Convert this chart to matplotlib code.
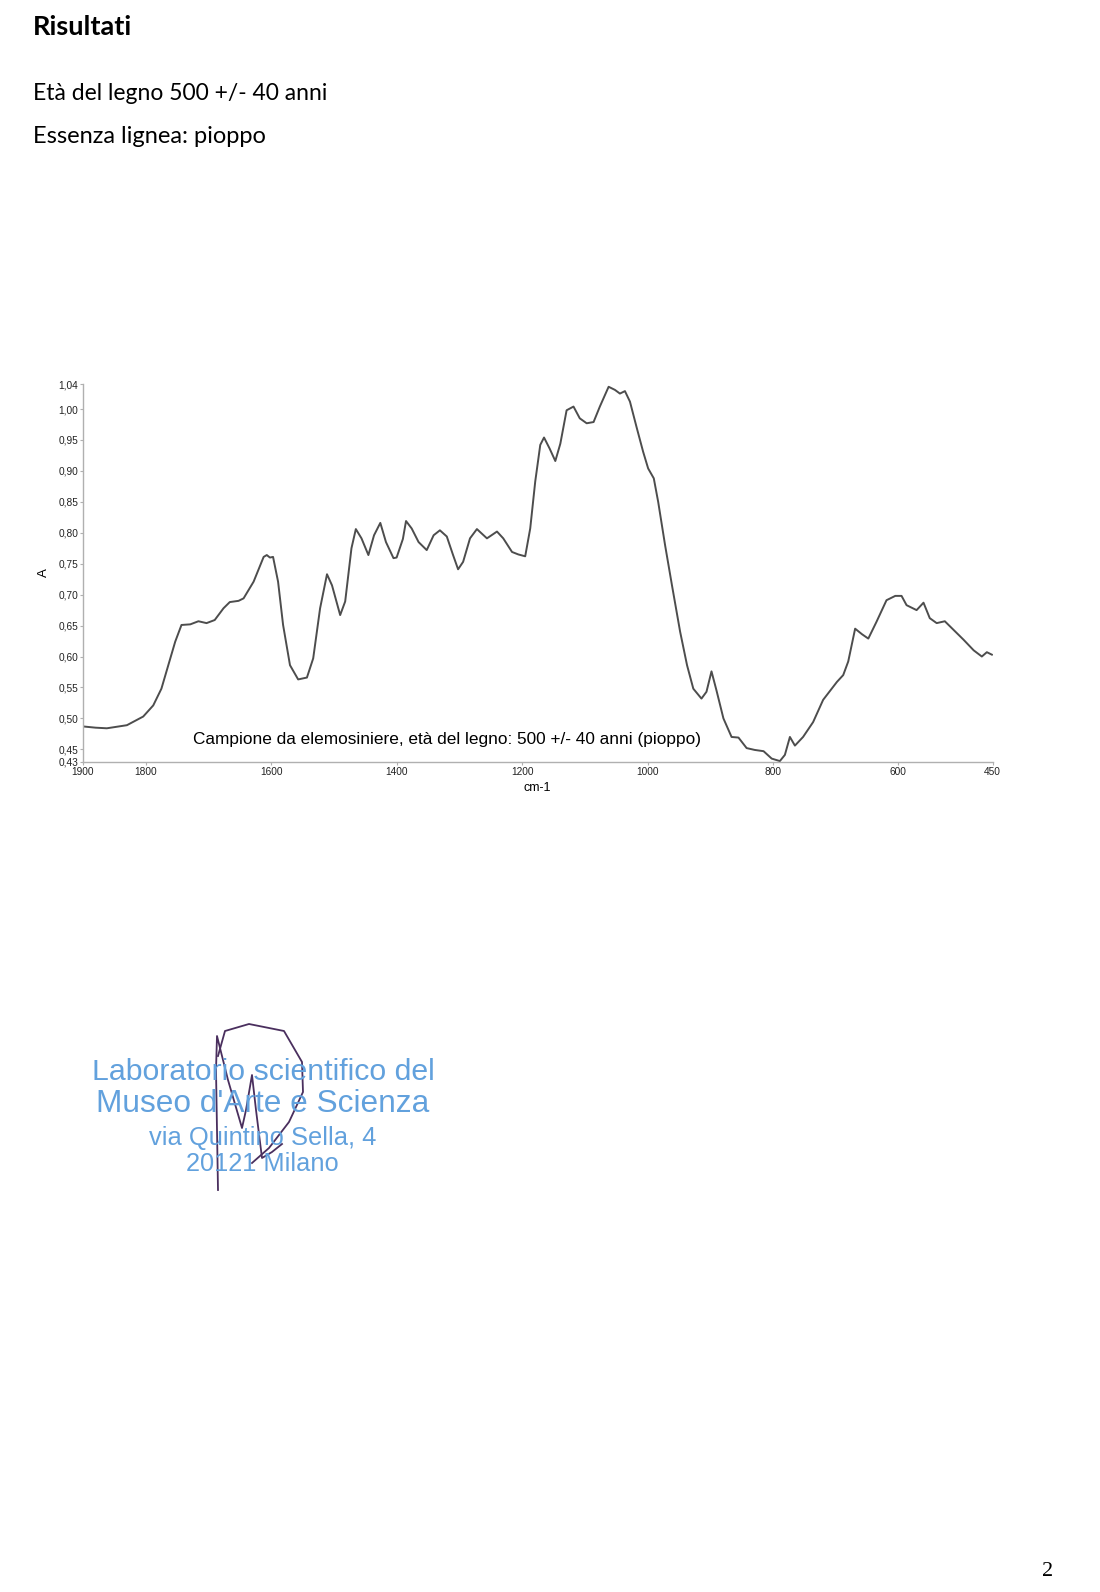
import matplotlib
matplotlib.use("Agg")
import matplotlib.pyplot as plt
from matplotlib.ticker import FixedLocator, FixedFormatter

# spettro FTIR (numero d'onda cm-1, assorbanza A)
wavenumber = [1900, 1880, 1862, 1830, 1804, 1788, 1775, 1764, 1753, 1743,
              1729, 1716, 1703, 1690, 1676, 1666, 1652, 1644, 1628, 1612,
              1607, 1602, 1597, 1589, 1581, 1570, 1557, 1543, 1533, 1522,
              1511, 1503, 1490, 1482, 1472, 1465, 1456, 1445, 1436, 1426,
              1417, 1405, 1400, 1390, 1385, 1376, 1365, 1352, 1341, 1331,
              1320, 1310, 1302, 1294, 1283, 1272, 1256, 1240, 1230, 1216,
              1206, 1195, 1187, 1179, 1171, 1165, 1156, 1147, 1139, 1129,
              1118, 1108, 1097, 1086, 1076, 1062, 1052, 1044, 1036, 1028,
              1017, 1007, 999, 990, 983, 972, 961, 948, 937, 927,
              914, 906, 898, 890, 879, 866, 855, 842, 829, 815,
              802, 789, 781, 773, 765, 752, 736, 720, 698, 688,
              680, 669, 658, 648, 635, 619, 605, 595, 587, 571,
              560, 550, 539, 526, 512, 496, 480, 467, 459, 451]
absorbance = [0.487, 0.485, 0.484, 0.489, 0.503, 0.521, 0.548, 0.586, 0.624, 0.651,
              0.652, 0.657, 0.654, 0.659, 0.678, 0.688, 0.690, 0.694, 0.721, 0.761,
              0.764, 0.760, 0.761, 0.721, 0.651, 0.586, 0.563, 0.566, 0.597, 0.678,
              0.733, 0.715, 0.667, 0.689, 0.775, 0.806, 0.791, 0.764, 0.796, 0.816,
              0.785, 0.759, 0.760, 0.790, 0.819, 0.807, 0.785, 0.772, 0.796, 0.804,
              0.794, 0.764, 0.741, 0.753, 0.791, 0.806, 0.791, 0.802, 0.791, 0.769,
              0.765, 0.762, 0.807, 0.883, 0.942, 0.954, 0.936, 0.916, 0.944, 0.998,
              1.004, 0.985, 0.977, 0.979, 1.004, 1.036, 1.031, 1.025, 1.029, 1.012,
              0.969, 0.931, 0.904, 0.888, 0.850, 0.780, 0.715, 0.640, 0.586, 0.548,
              0.532, 0.543, 0.576, 0.545, 0.500, 0.470, 0.469, 0.452, 0.449, 0.447,
              0.435, 0.431, 0.441, 0.470, 0.456, 0.470, 0.494, 0.530, 0.559, 0.570,
              0.592, 0.645, 0.636, 0.629, 0.656, 0.691, 0.698, 0.698, 0.683, 0.675,
              0.687, 0.662, 0.654, 0.657, 0.643, 0.627, 0.610, 0.600, 0.607, 0.603]

x_ticks = [1900, 1800, 1600, 1400, 1200, 1000, 800, 600, 450]
y_ticks = [0.43, 0.45, 0.50, 0.55, 0.60, 0.65, 0.70, 0.75, 0.80, 0.85, 0.90, 0.95, 1.00, 1.04]

titolo = "Risultati"
righe = ["Età del legno 500 +/- 40 anni", "Essenza lignea: pioppo"]
didascalia = "Campione da elemosiniere, età del legno: 500 +/- 40 anni (pioppo)"
timbro = ["Laboratorio scientifico del", "Museo d'Arte e Scienza",
          "via Quintino Sella, 4", "20121 Milano"]

# firma (pixel della pagina)
firma_x = [218, 225, 249, 284, 302, 303, 289, 269, 252]
firma_y = [1056, 1031, 1024, 1031, 1062, 1092, 1122, 1148, 1163]
firma2_x = [218, 217, 216, 217, 228, 242, 246, 252, 256, 262, 272, 282]
firma2_y = [1190, 1130, 1070, 1036, 1080, 1128, 1110, 1075, 1110, 1158, 1152, 1144]

W, H = 1100, 1592
fig = plt.figure(figsize=(W / 100, H / 100), dpi=100)

# intestazione
fig.text(33 / W, 1 - 35 / H, titolo, family="Lato", weight="bold", fontsize=19.5, color="black")
fig.text(33 / W, 1 - 100 / H, righe[0], family="Lato", fontsize=16.5, color="black")
fig.text(33 / W, 1 - 143 / H, righe[1], family="Lato", fontsize=17, color="black")

# grafico
ax = fig.add_axes([83 / W, 1 - 761.7 / H, (992.5 - 83) / W, (761.7 - 384.3) / H])
ax.plot(wavenumber, absorbance, color="#4d4d4d", lw=1.4)
ax.set_xlim(1900, 450)
ax.set_ylim(0.43, 1.04)
ax.xaxis.set_major_locator(FixedLocator(x_ticks))
ax.yaxis.set_major_locator(FixedLocator(y_ticks))
ax.yaxis.set_major_formatter(FixedFormatter([("%.2f" % v).replace(".", ",") for v in y_ticks]))
for s in ["top", "right"]:
    ax.spines[s].set_visible(False)
for s in ["left", "bottom"]:
    ax.spines[s].set_color("#b0b0b0")
    ax.spines[s].set_linewidth(1.0)
ax.tick_params(length=2.5, width=0.8, color="#b0b0b0", labelsize=7.3, pad=1,
               labelcolor="#222222")
for lab in ax.get_xticklabels() + ax.get_yticklabels():
    lab.set_family("Liberation Sans")
ax.set_xlabel("cm-1", family="Liberation Sans", fontsize=9, labelpad=4)
ax.set_ylabel("A", family="Liberation Sans", fontsize=9.5, labelpad=6)
ax.text(1320, 0.466, didascalia, family="Liberation Sans", fontsize=12.4,
        ha="center", va="center", color="black")

# timbro del laboratorio
blu = "#62a1dd"
fig.text(263 / W, 1 - 1071.5 / H, timbro[0], family="Liberation Sans", fontsize=21.8,
         color=blu, ha="center", va="center")
fig.text(263 / W, 1 - 1104 / H, timbro[1], family="Liberation Sans", fontsize=22.8,
         color=blu, ha="center", va="center")
fig.text(262.5 / W, 1 - 1137.5 / H, timbro[2], family="Liberation Sans", fontsize=18.4,
         color=blu, ha="center", va="center")
fig.text(262 / W, 1 - 1164 / H, timbro[3], family="Liberation Sans", fontsize=18.3,
         color=blu, ha="center", va="center")

over = fig.add_axes([0, 0, 1, 1], facecolor="none")
over.set_xlim(0, W)
over.set_ylim(H, 0)
over.axis("off")
over.plot(firma_x, firma_y, color="#4a2f5e", lw=1.3)
over.plot(firma2_x, firma2_y, color="#4a2f5e", lw=1.3)

# numero di pagina
fig.text(1048 / W, 1 - 1572 / H, "2", family="Liberation Serif", fontsize=16,
         ha="center", va="center")

fig.savefig("out.png", dpi=100)
